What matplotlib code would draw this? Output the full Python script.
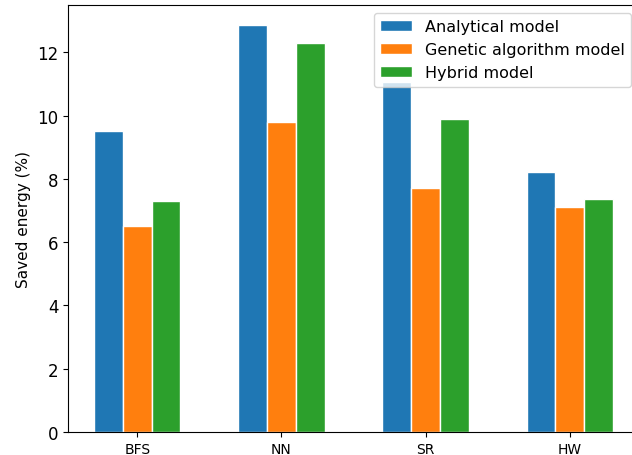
import numpy as np
import matplotlib.pyplot as plt

categories = ['BFS', 'NN', 'SR', 'HW']
analytical = [9.5, 12.85, 11.05, 8.2]
genetic = [6.5, 9.8, 7.7, 7.1]
hybrid = [7.3, 12.3, 9.9, 7.35]

x = np.arange(len(categories))
w = 0.2

fig = plt.figure(figsize=(6.32, 4.56), dpi=100)
ax = fig.add_axes([68 / 632, 23 / 456, 571 / 632, 427 / 456])

ax.bar(x - w, analytical, w, edgecolor='white', label='Analytical model')
ax.bar(x, genetic, w, edgecolor='white', label='Genetic algorithm model')
ax.bar(x + w, hybrid, w, edgecolor='white', label='Hybrid model')

ax.set_xticks(x)
ax.set_xticklabels(categories, fontsize=10)
ax.tick_params(axis='y', labelsize=12)
ax.set_ylabel('Saved energy (%)', fontsize=11)
ax.legend(loc='upper right', fontsize=11.5)

fig.savefig('out.png')
